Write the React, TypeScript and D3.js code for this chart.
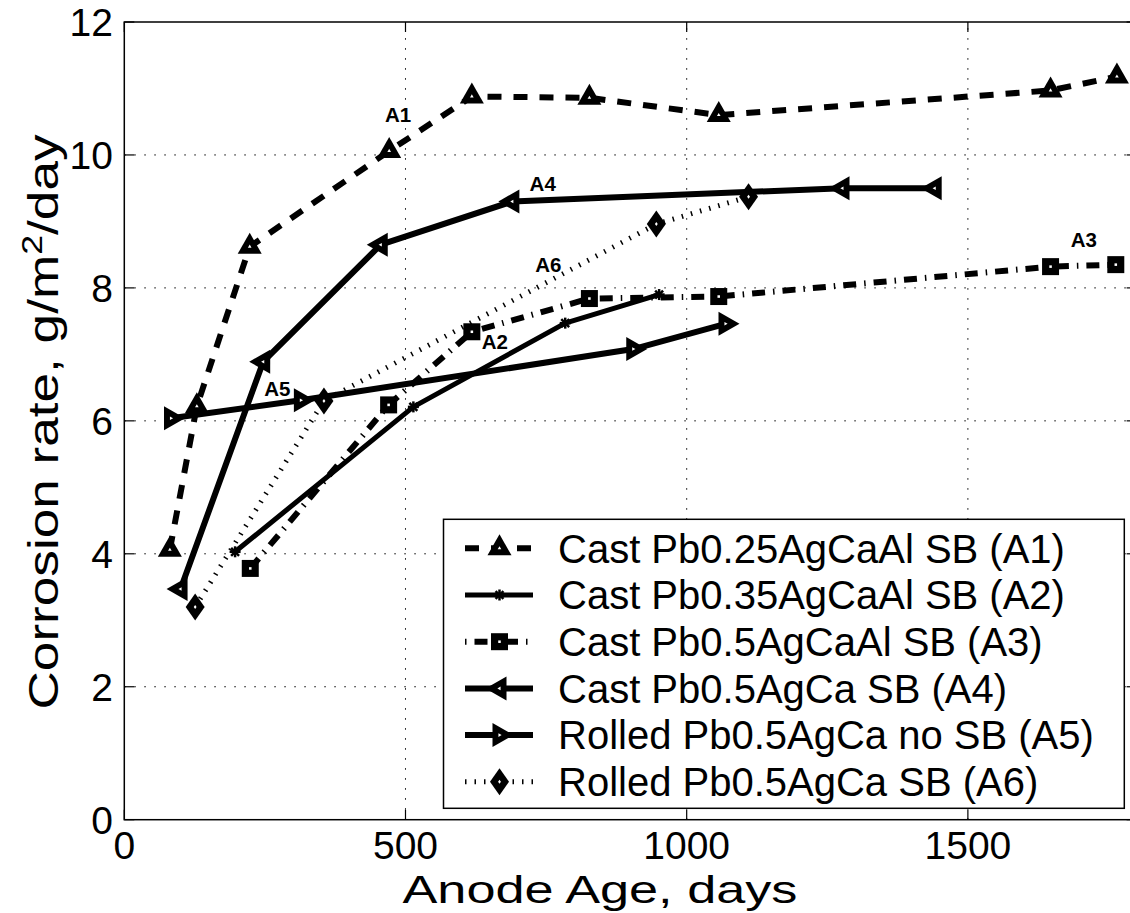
import React from "react";
import * as d3 from "d3";

// ---- data ----
const xTicks = [0, 500, 1000, 1500];
const yTicks = [0, 2, 4, 6, 8, 10, 12];

const a1X = [81, 129, 223, 471, 618, 827, 1057, 1647, 1765];
const a1Y = [4.06, 6.22, 8.62, 10.06, 10.88, 10.86, 10.6, 10.97, 11.18];
const a2X = [197, 514, 784, 951];
const a2Y = [4.03, 6.21, 7.47, 7.9];
const a3X = [224, 470, 618, 827, 1057, 1647, 1763];
const a3Y = [3.78, 6.24, 7.34, 7.84, 7.87, 8.32, 8.35];
const a4X = [100, 247, 456, 690, 1277, 1441];
const a4Y = [3.47, 6.89, 8.65, 9.3, 9.5, 9.5];
const a5X = [83, 314, 905, 1069];
const a5Y = [6.04, 6.31, 7.08, 7.46];
const a6X = [126, 355, 946, 1110];
const a6Y = [3.2, 6.3, 8.96, 9.37];

const seriesNames = [
  "Cast Pb0.25AgCaAl SB (A1)",
  "Cast Pb0.35AgCaAl SB (A2)",
  "Cast Pb0.5AgCaAl SB (A3)",
  "Cast Pb0.5AgCa SB (A4)",
  "Rolled Pb0.5AgCa no SB (A5)",
  "Rolled Pb0.5AgCa SB (A6)",
];

const labelTexts = ["A1", "A4", "A6", "A2", "A5", "A3"];
const labelX = [487, 744, 754, 659, 272, 1706];
const labelY = [10.6, 9.57, 8.35, 7.19, 6.49, 8.72];

// ---- styles ----
type MarkerType = "triUp" | "star" | "square" | "triLeft" | "triRight" | "diamond";
const styles: { marker: MarkerType; dash: string | undefined; width: number }[] = [
  { marker: "triUp", dash: "14 12", width: 6 },
  { marker: "star", dash: undefined, width: 5 },
  { marker: "square", dash: "13 8 1.5 8", width: 6 },
  { marker: "triLeft", dash: undefined, width: 6 },
  { marker: "triRight", dash: undefined, width: 6 },
  { marker: "diamond", dash: "1.5 8", width: 5 },
];

const FONT = "'Liberation Sans', Arial, Helvetica, sans-serif";

const W = 1130;
const H = 913;
const left = 124.3;
const right = 1136.6;
const top = 22;
const bottom = 819.7;

const x = d3.scaleLinear().domain([0, 1800]).range([left, right]);
const y = d3.scaleLinear().domain([0, 12]).range([bottom, top]);

function shapePath(type: MarkerType, cx: number, cy: number, s: number): string {
  switch (type) {
    case "triUp": {
      const w = 24 * s, h = 21 * s;
      return `M${cx},${cy - (2 * h) / 3}L${cx + w / 2},${cy + h / 3}L${cx - w / 2},${cy + h / 3}Z`;
    }
    case "triLeft": {
      const w = 21 * s, h = 24 * s;
      return `M${cx - (2 * w) / 3},${cy}L${cx + w / 3},${cy - h / 2}L${cx + w / 3},${cy + h / 2}Z`;
    }
    case "triRight": {
      const w = 21 * s, h = 24 * s;
      return `M${cx + (2 * w) / 3},${cy}L${cx - w / 3},${cy - h / 2}L${cx - w / 3},${cy + h / 2}Z`;
    }
    case "square": {
      const a = 17 * s;
      return `M${cx - a / 2},${cy - a / 2}h${a}v${a}h${-a}Z`;
    }
    case "diamond": {
      const w = 19 * s, h = 27 * s;
      return `M${cx},${cy - h / 2}L${cx + w / 2},${cy}L${cx},${cy + h / 2}L${cx - w / 2},${cy}Z`;
    }
    default:
      return "";
  }
}

function Marker({ type, cx, cy }: { type: MarkerType; cx: number; cy: number }) {
  if (type === "star") {
    const r = 5.5;
    const d = r * 0.72;
    return (
      <g stroke="#000" strokeWidth={2.5}>
        <line x1={cx - r} y1={cy} x2={cx + r} y2={cy} />
        <line x1={cx} y1={cy - r} x2={cx} y2={cy + r} />
        <line x1={cx - d} y1={cy - d} x2={cx + d} y2={cy + d} />
        <line x1={cx - d} y1={cy + d} x2={cx + d} y2={cy - d} />
      </g>
    );
  }
  return (
    <g>
      <path d={shapePath(type, cx, cy, 1)} fill="#000" />
      <path d={shapePath(type, cx, cy, 0.15)} fill="#fff" />
    </g>
  );
}

const seriesX = [a1X, a2X, a3X, a4X, a5X, a6X];
const seriesY = [a1Y, a2Y, a3Y, a4Y, a5Y, a6Y];

export default function App() {
  const line = d3
    .line<[number, number]>()
    .x((d) => x(d[0]))
    .y((d) => y(d[1]));

  const tickLen = 10;
  const legLeft = 443.5, legTop = 519.3, legRight = 1124.3, legBottom = 808.3;
  const rowY0 = 548.3, rowStep = 46.7;

  return (
    <svg
      width={W}
      height={H}
      viewBox={`0 0 ${W} ${H}`}
      style={{ position: "absolute", left: 0, top: 0, background: "#fff" }}
      fontFamily={FONT}
    >
      <rect x={0} y={0} width={W} height={H} fill="#fff" />
      {/* grid */}
      <g stroke="#000" strokeWidth={1} strokeDasharray="1.5 8.5">
        {xTicks
          .filter((t) => t > 0)
          .map((t) => (
            <line key={"gx" + t} x1={x(t)} x2={x(t)} y1={bottom} y2={top} />
          ))}
        {yTicks
          .filter((t) => t > 0 && t < 12)
          .map((t) => (
            <line key={"gy" + t} x1={left} x2={right} y1={y(t)} y2={y(t)} />
          ))}
      </g>

      {/* series lines */}
      {seriesX.map((xs, i) => {
        const pts = xs.map((v, j) => [v, seriesY[i][j]] as [number, number]);
        const st = styles[i];
        return (
          <path
            key={"l" + i}
            d={line(pts) || ""}
            fill="none"
            stroke="#000"
            strokeWidth={st.width}
            strokeDasharray={st.dash}
            strokeLinejoin="round"
          />
        );
      })}
      {/* series markers */}
      {seriesX.map((xs, i) => (
        <g key={"m" + i}>
          {xs.map((v, j) => (
            <Marker key={j} type={styles[i].marker} cx={x(v)} cy={y(seriesY[i][j])} />
          ))}
        </g>
      ))}

      {/* annotation labels */}
      {labelTexts.map((t, i) => (
        <text
          key={"lab" + t}
          x={x(labelX[i])}
          y={y(labelY[i]) + 7.4}
          textAnchor="middle"
          fontSize={20.5}
          fontWeight="bold"
        >
          {t}
        </text>
      ))}

      {/* axes box */}
      <g stroke="#000" strokeWidth={1.5} fill="none">
        <rect x={left} y={top} width={right - left} height={bottom - top} />
      </g>
      {/* ticks */}
      <g stroke="#000" strokeWidth={1.2}>
        {xTicks.map((t) => (
          <g key={"tx" + t}>
            <line x1={x(t)} x2={x(t)} y1={bottom} y2={bottom - tickLen} />
            <line x1={x(t)} x2={x(t)} y1={top} y2={top + tickLen} />
          </g>
        ))}
        {yTicks.map((t) => (
          <g key={"ty" + t}>
            <line x1={left} x2={left + tickLen} y1={y(t)} y2={y(t)} />
            <line x1={right} x2={right - tickLen} y1={y(t)} y2={y(t)} />
          </g>
        ))}
      </g>
      {/* tick labels */}
      <g fontSize={39} fill="#000">
        {xTicks.map((t) => (
          <text key={"xl" + t} x={x(t)} y={859} textAnchor="middle">
            {t}
          </text>
        ))}
        {yTicks.map((t) => (
          <text key={"yl" + t} x={113} y={y(t) + 14} textAnchor="end">
            {t}
          </text>
        ))}
      </g>
      {/* axis labels */}
      <text
        x={600}
        y={903}
        textAnchor="middle"
        fontSize={39}
        textLength={395}
        lengthAdjust="spacingAndGlyphs"
      >
        Anode Age, days
      </text>
      <text
        transform={`translate(58,${422}) rotate(-90)`}
        textAnchor="middle"
        fontSize={43}
        textLength={575}
        lengthAdjust="spacingAndGlyphs"
      >
        Corrosion rate, g/m
        <tspan fontSize={29} dy={-16}>
          2
        </tspan>
        <tspan dy={16}>/day</tspan>
      </text>

      {/* legend */}
      <rect
        x={legLeft}
        y={legTop}
        width={legRight - legLeft}
        height={legBottom - legTop}
        fill="#fff"
        stroke="#000"
        strokeWidth={1.5}
      />
      {seriesNames.map((name, i) => {
        const cy = rowY0 + i * rowStep;
        const st = styles[i];
        const offset = st.marker === "square" ? 21 : 0;
        return (
          <g key={"leg" + i}>
            <line
              x1={465}
              x2={533}
              y1={cy}
              y2={cy}
              stroke="#000"
              strokeWidth={st.width}
              strokeDasharray={st.dash}
              strokeDashoffset={offset}
            />
            <Marker type={st.marker} cx={499.5} cy={cy} />
            <text x={558} y={cy + 14.3} fontSize={40}>
              {name}
            </text>
          </g>
        );
      })}
    </svg>
  );
}
